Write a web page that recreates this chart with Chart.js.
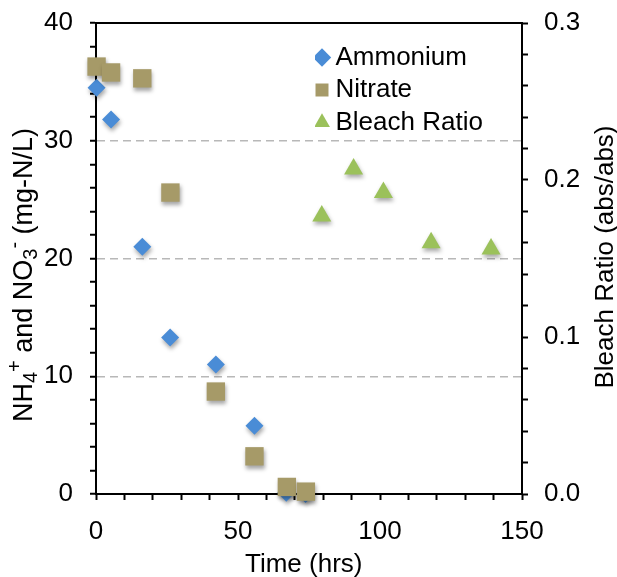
<!DOCTYPE html>
<html>
<head>
<meta charset="utf-8">
<script src="https://cdn.jsdelivr.net/npm/chart.js@4.4.1/dist/chart.umd.min.js"></script>
<style>
  html, body { margin: 0; padding: 0; background: #fff; }
  #wrap { width: 617px; height: 577px; }
</style>
</head>
<body>
<div id="wrap"><canvas id="chart" width="617" height="577"></canvas></div>
<script>
// values
const seriesNames = ['Ammonium', 'Nitrate', 'Bleach Ratio'];
const ammoniumTime = [0.2, 5.3, 16.3, 26.1, 42.2, 55.8, 67.0, 73.8];
const ammoniumConc = [34.5, 31.8, 21.0, 13.3, 11.0, 5.8, 0.1, 0.0];
const nitrateTime = [0.2, 5.3, 16.3, 26.2, 42.2, 55.8, 67.2, 73.9];
const nitrateConc = [36.3, 35.8, 35.3, 25.6, 8.7, 3.2, 0.6, 0.2];
const bleachTime = [79.5, 90.7, 101.2, 118.0, 139.1];
const bleachRatio = [0.177, 0.207, 0.192, 0.160, 0.156];
const dashedGridAt = [10, 20, 30];

const FONT = "'Liberation Sans', Arial, sans-serif";
const xTitle = 'Time (hrs)';
const rightTitle = 'Bleach Ratio (abs/abs)';
// left title has sub/superscripts, drawn piece by piece
const leftTitleParts = [
  { t: 'NH', s: 0 }, { t: '4', s: 1 }, { t: '+', s: -1 },
  { t: ' and NO', s: 0 }, { t: '3', s: 1 }, { t: '-', s: -1 },
  { t: ' (mg-N/L)', s: 0 }
];

const toPoints = (xs, ys) => xs.map((x, i) => ({ x: x, y: ys[i] }));

const markerShadow = {
  id: 'markerShadow',
  beforeDatasetsDraw(chart) {
    const ctx = chart.ctx;
    ctx.save();
    ctx.shadowColor = 'rgba(0,0,0,0.35)';
    ctx.shadowBlur = 4;
    ctx.shadowOffsetX = 1;
    ctx.shadowOffsetY = 3;
  },
  afterDatasetsDraw(chart) {
    chart.ctx.restore();
  }
};

// put the legend in the upper right of the plot
const legendPlace = {
  id: 'legendPlace',
  afterLayout(chart) {
    const lg = chart.legend;
    const w = lg.width, h = lg.height;
    lg.left = 315;
    lg.top = 38;
    lg.right = lg.left + w;
    lg.bottom = lg.top + h;
  }
};

const titlesAndFrame = {
  id: 'titlesAndFrame',
  afterDraw(chart) {
    const { ctx, chartArea } = chart;
    ctx.save();
    // top frame line
    ctx.strokeStyle = '#000';
    ctx.lineWidth = 2;
    ctx.beginPath();
    ctx.moveTo(chartArea.left - 1, chartArea.top);
    ctx.lineTo(chartArea.right + 1, chartArea.top);
    ctx.stroke();

    ctx.fillStyle = '#000';
    ctx.font = '26px ' + FONT;
    ctx.textBaseline = 'alphabetic';

    // x title
    ctx.textAlign = 'left';
    ctx.fillText(xTitle, 245, 572);

    // right title
    ctx.textAlign = 'center';
    ctx.save();
    ctx.translate(613, 257);
    ctx.rotate(-Math.PI / 2);
    ctx.fillText(rightTitle, 0, 0);
    ctx.restore();

    // left title
    ctx.textAlign = 'left';
    const fontFor = p => (p.s === 0 ? '27px ' : '20px ') + FONT;
    let total = 0;
    leftTitleParts.forEach(p => {
      ctx.font = fontFor(p);
      total += ctx.measureText(p.t).width;
    });
    ctx.save();
    ctx.translate(32, 275);
    ctx.rotate(-Math.PI / 2);
    let x = -total / 2;
    leftTitleParts.forEach(p => {
      ctx.font = fontFor(p);
      const dy = p.s === 1 ? 5 : (p.s === -1 ? -11 : 0);
      ctx.fillText(p.t, x, dy);
      x += ctx.measureText(p.t).width;
    });
    ctx.restore();

    ctx.restore();
  }
};

const tickFont = { family: FONT, size: 26 };

// fixed axis sizes, no extra room asked for the end labels
const fixWidth = w => s => { s.width = w; s.paddingTop = 0; s.paddingBottom = 0; };

new Chart(document.getElementById('chart'), {
  type: 'scatter',
  data: {
    datasets: [
      {
        label: seriesNames[0],
        data: toPoints(ammoniumTime, ammoniumConc),
        pointStyle: 'rectRot',
        pointRadius: 9,
        pointHoverRadius: 9,
        backgroundColor: '#4a8cd6',
        borderColor: '#4a8cd6',
        borderWidth: 0,
        yAxisID: 'y',
        clip: false,
        order: 2
      },
      {
        label: seriesNames[1],
        data: toPoints(nitrateTime, nitrateConc),
        pointStyle: 'rect',
        pointRadius: 13,
        pointHoverRadius: 13,
        backgroundColor: '#a69a68',
        borderColor: '#a69a68',
        borderWidth: 0,
        yAxisID: 'y',
        clip: false,
        order: 1
      },
      {
        label: seriesNames[2],
        data: toPoints(bleachTime, bleachRatio),
        pointStyle: 'triangle',
        pointRadius: 11,
        pointHoverRadius: 11,
        backgroundColor: '#9bc15b',
        borderColor: '#9bc15b',
        borderWidth: 0,
        yAxisID: 'y2',
        clip: false,
        order: 3
      }
    ]
  },
  options: {
    responsive: false,
    animation: false,
    events: [],
    layout: { padding: { top: 23, left: 0, right: 0, bottom: 0 } },
    scales: {
      x: {
        type: 'linear',
        position: 'bottom',
        min: 0,
        max: 150,
        afterFit: s => { s.height = 83; s.paddingLeft = 0; s.paddingRight = 0; },
        ticks: {
          stepSize: 10,
          maxTicksLimit: 100,
          autoSkip: false,
          maxRotation: 0,
          padding: 16,
          color: '#000',
          font: tickFont,
          callback: v => (v % 50 === 0 ? String(v) : '')
        },
        grid: { drawOnChartArea: false, tickLength: 6, tickColor: '#000', tickWidth: 2 },
        border: { color: '#000', width: 2 }
      },
      y: {
        type: 'linear',
        position: 'left',
        min: 0,
        max: 40,
        afterFit: fixWidth(96),
        ticks: {
          stepSize: 2,
          maxTicksLimit: 100,
          autoSkip: false,
          padding: 17,
          color: '#000',
          font: tickFont,
          callback: v => (v % 10 === 0 ? String(v) : '')
        },
        grid: {
          color: c => (c.tick && dashedGridAt.includes(c.tick.value) ? '#b8b8b8' : 'rgba(0,0,0,0)'),
          lineWidth: 1.5,
          tickLength: 6,
          tickColor: '#000',
          tickWidth: 2
        },
        border: { color: '#000', width: 2, dash: [8, 5] }
      },
      y2: {
        type: 'linear',
        position: 'right',
        min: 0,
        max: 0.3,
        afterFit: fixWidth(95),
        ticks: {
          stepSize: 0.02,
          maxTicksLimit: 100,
          autoSkip: false,
          padding: 16,
          color: '#000',
          font: tickFont,
          callback: v => (Math.abs(v * 10 - Math.round(v * 10)) < 1e-6 ? v.toFixed(1) : '')
        },
        grid: { drawOnChartArea: false, tickLength: 6, tickColor: '#000', tickWidth: 2 },
        border: { color: '#000', width: 2 }
      }
    },
    plugins: {
      tooltip: { enabled: false },
      legend: {
        position: 'chartArea',
        align: 'start',
        labels: {
          usePointStyle: true,
          boxWidth: 1,
          boxHeight: 13,
          padding: 6.5,
          color: '#000',
          font: { family: FONT, size: 26 },
          sort: (a, b) => a.datasetIndex - b.datasetIndex
        }
      }
    }
  },
  plugins: [markerShadow, legendPlace, titlesAndFrame]
});
</script>
</body>
</html>
